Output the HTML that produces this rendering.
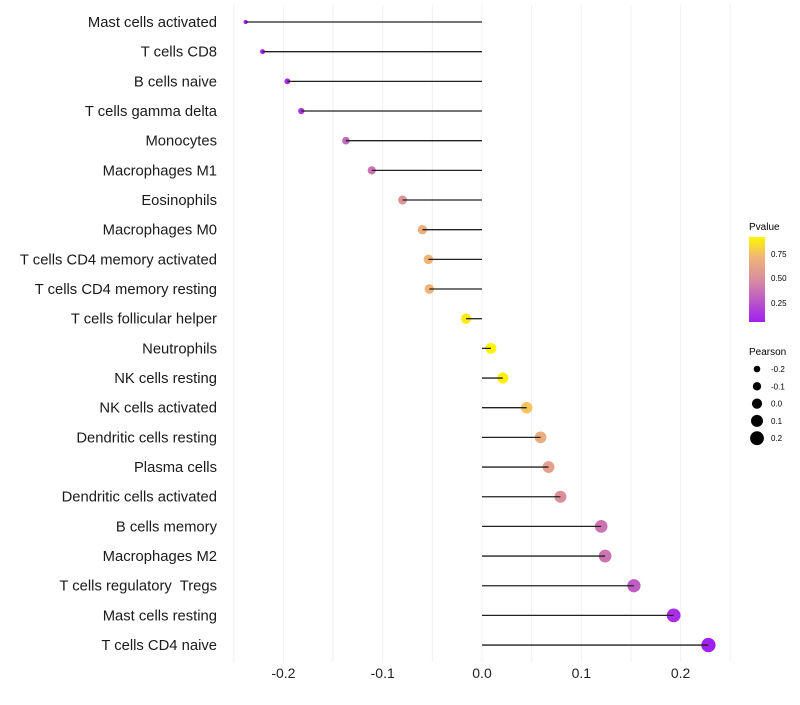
<!DOCTYPE html>
<html><head><meta charset="utf-8"><style>
body{margin:0;background:#fff;font-family:"Liberation Sans",sans-serif}
</style></head><body>
<svg id="c" width="800" height="700" xmlns="http://www.w3.org/2000/svg">
<defs><linearGradient id="pg" x1="0" y1="1" x2="0" y2="0">
<stop offset="0" stop-color="#a020f0"/><stop offset="0.49" stop-color="#d88ca0"/><stop offset="0.76" stop-color="#f0b478"/><stop offset="1" stop-color="#fff500"/>
</linearGradient></defs>
<g id="grid"></g><g id="dots"></g><g id="marks"></g><g id="labels"></g>
<g>
<text x="749" y="230" font-size="10">Pvalue</text>
<rect x="749" y="237" width="16" height="85" fill="url(#pg)"/>
<text x="771" y="257" font-size="8">0.75</text>
<text x="771" y="281" font-size="8">0.50</text>
<text x="771" y="306" font-size="8">0.25</text>
</g>
<g id="sizeleg">
<text x="749" y="355" font-size="10">Pearson</text>
</g>
</svg>
<script>
const cells=["Mast cells activated","T cells CD8","B cells naive","T cells gamma delta","Monocytes","Macrophages M1","Eosinophils","Macrophages M0","T cells CD4 memory activated","T cells CD4 memory resting","T cells follicular helper","Neutrophils","NK cells resting","NK cells activated","Dendritic cells resting","Plasma cells","Dendritic cells activated","B cells memory","Macrophages M2","T cells regulatory  Tregs","Mast cells resting","T cells CD4 naive"];
const pearson=[-0.238,-0.221,-0.196,-0.182,-0.137,-0.111,-0.080,-0.060,-0.054,-0.053,-0.016,0.009,0.021,0.045,0.059,0.067,0.079,0.120,0.124,0.153,0.193,0.228];
const pvalue=[0.05,0.08,0.1,0.15,0.35,0.4,0.55,0.72,0.75,0.75,0.93,0.97,0.95,0.8,0.7,0.62,0.52,0.4,0.4,0.3,0.11,0.05];
const xTicks=[-0.2,-0.1,0.0,0.1,0.2];
const xTickLabels=["-0.2","-0.1","0.0","0.1","0.2"];
const sizeLegend=[-0.2,-0.1,0.0,0.1,0.2];
const NS="http://www.w3.org/2000/svg";
const x=v=>482+v*993;
const y=i=>22+i*29.67;
const r=v=>Math.sqrt(4.5+100*Math.max(0,v+0.238));
function col(p){const s=[[0.05,[160,32,240]],[0.5,[216,140,160]],[0.75,[240,180,120]],[0.97,[255,245,0]]];
 p=Math.max(0.05,Math.min(0.97,p));let j=0;while(j<s.length-2&&p>s[j+1][0])j++;const a=s[j],b=s[j+1];
 const t=(p-a[0])/(b[0]-a[0]);return "rgb("+a[1].map((c,k)=>Math.round(c+(b[1][k]-c)*t)).join(",")+")";}
function mk(t,at,parent){const e=document.createElementNS(NS,t);for(const k in at)e.setAttribute(k,at[k]);parent.appendChild(e);return e;}
const g=document.getElementById('grid'),m=document.getElementById('marks'),D=document.getElementById('dots'),L=document.getElementById('labels');
for(let v=-0.25;v<=0.2501;v+=0.05){const l=mk('line',{x1:x(v),x2:x(v),y1:5,y2:662,stroke:'#f0f0f0','stroke-width':1},g);

}
xTicks.forEach((v,i)=>{const t=mk('text',{x:x(v),y:678,'font-size':14,'text-anchor':'middle',fill:'#222'},L);t.textContent=xTickLabels[i];

});
cells.forEach((c,i)=>{
 const d=mk('circle',{cx:x(pearson[i]),cy:y(i),r:r(pearson[i]),fill:col(pvalue[i])},D);
 
 
 const l=mk('line',{x1:x(0),x2:x(pearson[i]),y1:y(i),y2:y(i),stroke:'#222','stroke-width':1.3},m);
 
 
 const t=mk('text',{x:217,y:y(i)+5,'font-size':14.8,'text-anchor':'end',fill:'#1a1a1a','xml:space':'preserve'},L);t.textContent=c;
 t.style.whiteSpace='pre';
 
 
});
const sl=document.getElementById('sizeleg');
sizeLegend.forEach((v,i)=>{const cy=369+i*17.3;
 const d=mk('circle',{cx:757,cy:cy,r:3.3+i*0.9,fill:'#000'},sl);
 
 
 const t=mk('text',{x:771,y:cy+3,'font-size':8},sl);t.textContent=v.toFixed(1);
 
 });
</script>
</body></html>
